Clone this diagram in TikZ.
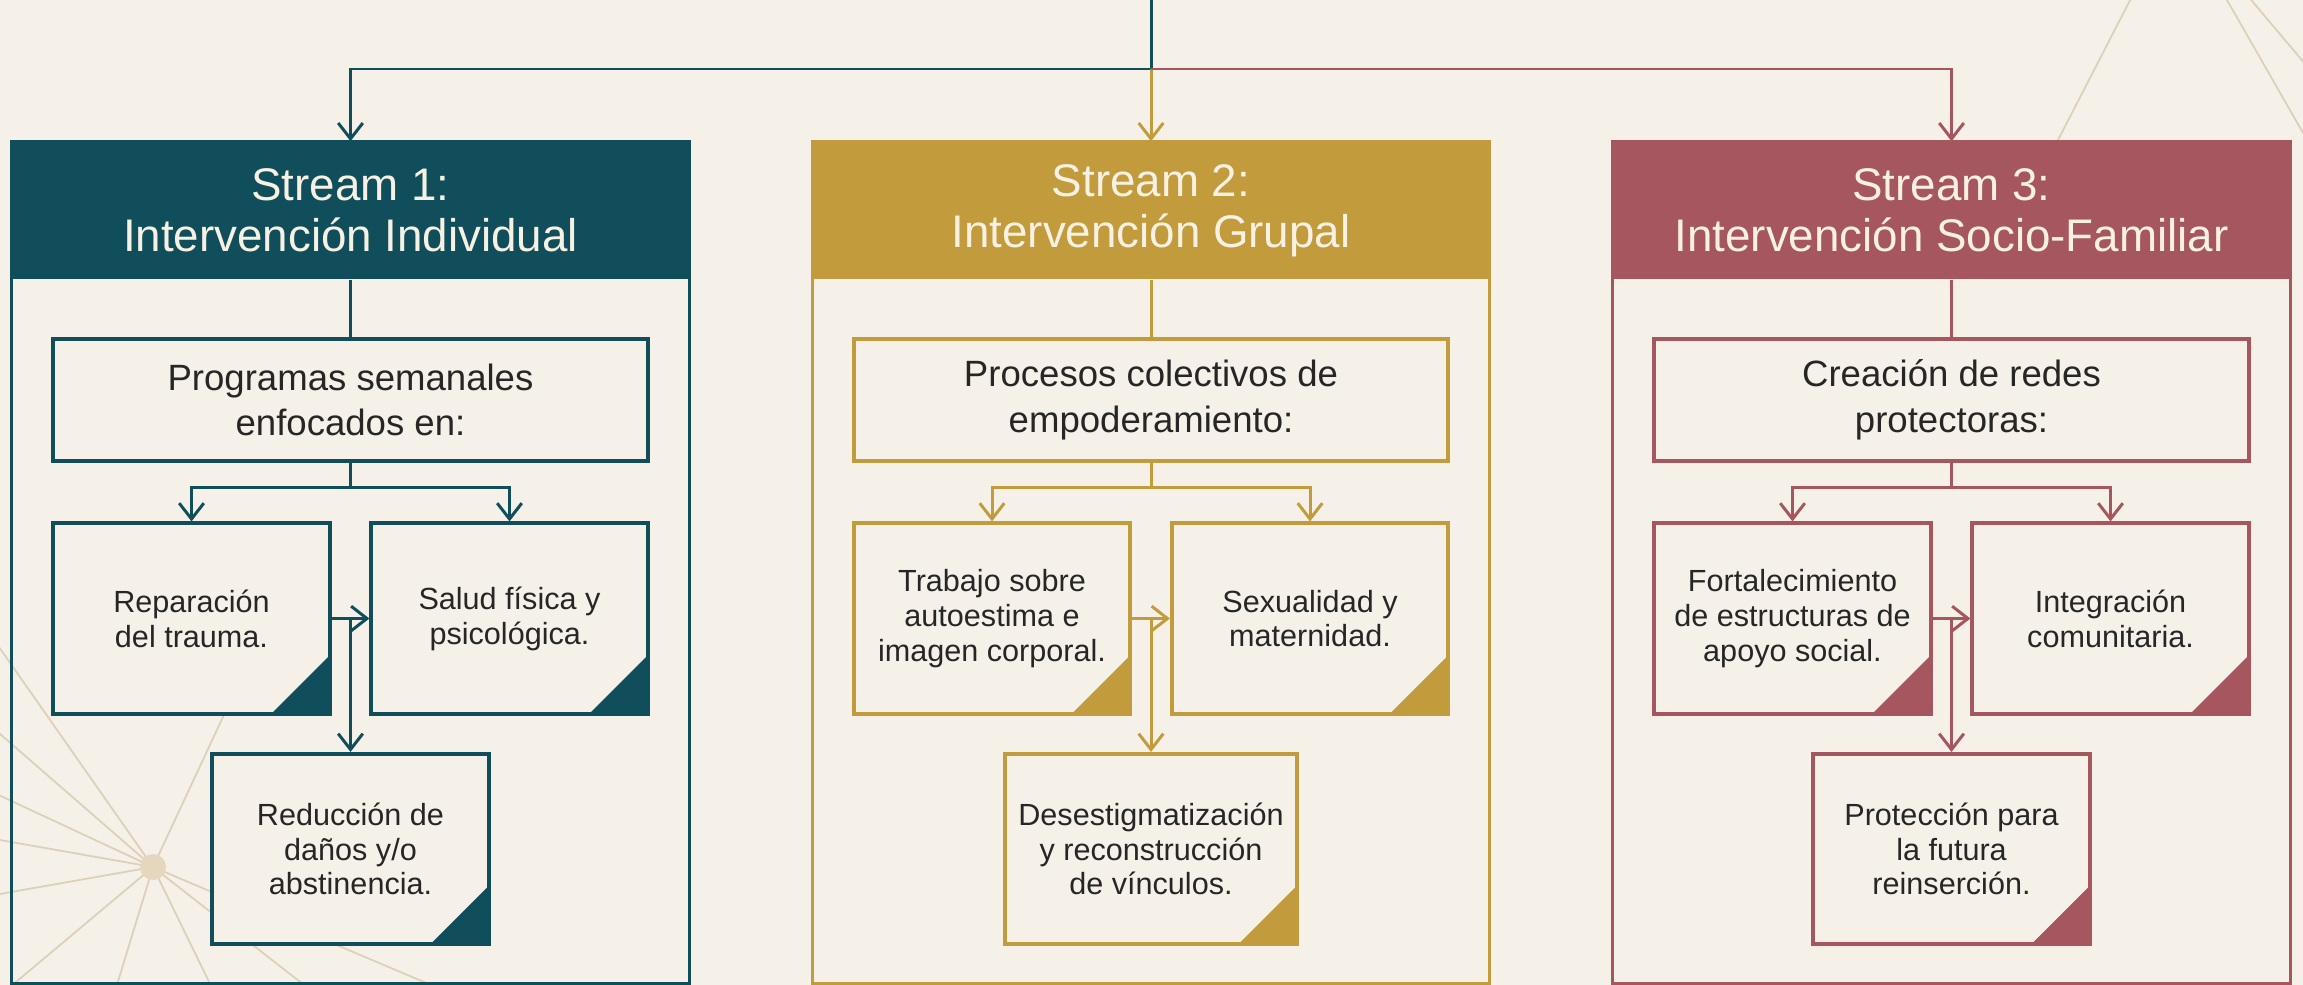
\documentclass[tikz,border=0pt]{standalone}
\usepackage{fontspec}
\newfontfamily\uisans{Liberation Sans}
\usetikzlibrary{arrows.meta}

\definecolor{paper}{HTML}{F5F1E8}
\definecolor{tealc}{HTML}{104E5B}
\definecolor{goldc}{HTML}{C29B3C}
\definecolor{rosec}{HTML}{A6565F}
\definecolor{rayc}{HTML}{DDD0B8}
\definecolor{dotc}{HTML}{E5D7BE}
\definecolor{ink}{HTML}{262626}
\definecolor{headtxt}{HTML}{F7F1E3}

\tikzset{
	streamframe/.style={draw=#1, line width=0.85pt, minimum width=6.77cm, minimum height=8.41cm, inner sep=0pt},
	streamhead/.style={fill=#1, text=headtxt, minimum width=6.77cm, minimum height=1.37cm, inner sep=0pt,
		align=center, font=\uisans\fontsize{13}{14.5}\selectfont},
	topicbox/.style={draw=#1, fill=paper, line width=1.15pt, minimum width=5.94cm, minimum height=1.22cm,
		inner sep=0pt, align=center, text=ink, font=\uisans\fontsize{10.4}{13}\selectfont},
	itembox/.style={draw=#1, fill=paper, line width=1.15pt, minimum width=2.76cm, minimum height=1.9cm,
		inner sep=0pt, align=center, text=ink, font=\uisans\fontsize{8.7}{9.9}\selectfont,
		path picture={\fill[#1] (path picture bounding box.south east) -- ++(-0.58cm,0pt) -- ++(0.58cm,0.58cm) -- cycle;}},
	conn/.style={draw=#1, line width=0.85pt},
	connarrow/.style={conn=#1, -{Straight Barb[length=4.5pt,width=7pt]}},
	rayline/.style={draw=rayc, line width=0.5pt},
}

\begin{document}
\begin{tikzpicture}[x=0.01cm,y=-0.01cm]
	\useasboundingbox (0,0) rectangle (2303,985);
	\fill[paper] (0,0) rectangle (2303,985);

	% faint rays in the background
	\begin{scope}
		\clip (0,0) rectangle (2303,985);
		\coordinate (hub) at (153,867);
		\foreach \a in {65,125,139,155,170,190,220,253,296,322,337}
			\draw[rayline] (hub) -- ++(-\a:340);
		\fill[dotc] (hub) circle[radius=0.13cm];
		\coordinate (glow) at (2176,-89);
		\draw[rayline] (glow) -- (1990,272);
		\draw[rayline] (glow) -- (2350,215);
		\draw[rayline] (glow) -- (2420,200);
	\end{scope}

	% stream 1
	\node[streamframe=tealc] (frame1) at (350.5,562.5) {};
	\node[streamhead=tealc] (head1) at (350.5,210.5) {Stream 1:\\Intervención Individual};
	\node[topicbox=tealc] (prog1) at (350.5,400) {Programas semanales\\enfocados en:};
	\node[itembox=tealc] (rep1) at (191.5,618.5) {Reparación\\del trauma.};
	\node[itembox=tealc] (sal1) at (509.5,618.5) {Salud física y\\psicológica.};
	\node[itembox=tealc] (red1) at (350.5,849) {Reducción de\\daños y/o\\abstinencia.};

	% stream 2
	\node[streamframe=goldc] (frame2) at (1151,562.5) {};
	\node[streamhead=goldc] (head2) at (1151,210.5) {Stream 2:\\Intervención Grupal};
	\node[topicbox=goldc] (proc2) at (1151,400) {Procesos colectivos de\\empoderamiento:};
	\node[itembox=goldc] (trab2) at (992,618.5) {Trabajo sobre\\autoestima e\\imagen corporal.};
	\node[itembox=goldc] (sex2) at (1310,618.5) {Sexualidad y\\maternidad.};
	\node[itembox=goldc, minimum width=2.91cm] (des2) at (1151,849) {Desestigmatización\\y reconstrucción\\de vínculos.};

	% stream 3
	\node[streamframe=rosec] (frame3) at (1951.5,562.5) {};
	\node[streamhead=rosec] (head3) at (1951.5,210.5) {Stream 3:\\Intervención Socio-Familiar};
	\node[topicbox=rosec] (red3) at (1951.5,400) {Creación de redes\\protectoras:};
	\node[itembox=rosec] (fort3) at (1792.5,618.5) {Fortalecimiento\\de estructuras de\\apoyo social.};
	\node[itembox=rosec] (integ3) at (2110.5,618.5) {Integración\\comunitaria.};
	\node[itembox=rosec] (prot3) at (1951.5,849) {Protección para\\la futura\\reinserción.};

	% top split
	\coordinate (root) at (1151,0);
	\coordinate (split) at (1151,69);
	\draw[conn=tealc] (root) -- (split);
	\draw[connarrow=tealc] (split) -| (head1.north);
	\draw[connarrow=goldc] (split) -- (head2.north);
	\draw[connarrow=rosec] (split) -| (head3.north);

	% links inside stream 1
	\draw[conn=tealc] (head1.south) -- (prog1.north);
	\draw[conn=tealc] (prog1.south) -- ++(0,24) coordinate (fork1);
	\draw[connarrow=tealc] (fork1) -| (rep1.north);
	\draw[connarrow=tealc] (fork1) -| (sal1.north);
	\draw[connarrow=tealc] (rep1.east) -- (sal1.west);
	\draw[connarrow=tealc] (rep1.east -| red1.north) -- (red1.north);

	% links inside stream 2
	\draw[conn=goldc] (head2.south) -- (proc2.north);
	\draw[conn=goldc] (proc2.south) -- ++(0,24) coordinate (fork2);
	\draw[connarrow=goldc] (fork2) -| (trab2.north);
	\draw[connarrow=goldc] (fork2) -| (sex2.north);
	\draw[connarrow=goldc] (trab2.east) -- (sex2.west);
	\draw[connarrow=goldc] (trab2.east -| des2.north) -- (des2.north);

	% links inside stream 3
	\draw[conn=rosec] (head3.south) -- (red3.north);
	\draw[conn=rosec] (red3.south) -- ++(0,24) coordinate (fork3);
	\draw[connarrow=rosec] (fork3) -| (fort3.north);
	\draw[connarrow=rosec] (fork3) -| (integ3.north);
	\draw[connarrow=rosec] (fort3.east) -- (integ3.west);
	\draw[connarrow=rosec] (fort3.east -| prot3.north) -- (prot3.north);
\end{tikzpicture}
\end{document}
